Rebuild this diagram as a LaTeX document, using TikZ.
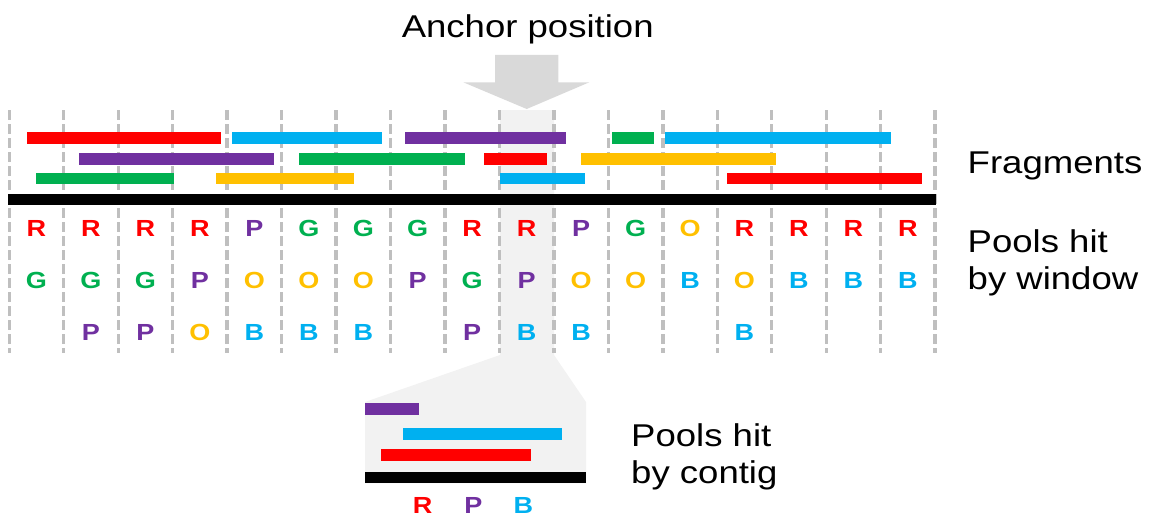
\documentclass[tikz,border=0pt]{standalone}
\usepackage{fontspec}
\setmainfont{Liberation Sans}
\definecolor{cR}{HTML}{FF0000}
\definecolor{cG}{HTML}{00B050}
\definecolor{cP}{HTML}{7030A0}
\definecolor{cO}{HTML}{FFC000}
\definecolor{cB}{HTML}{00B0F0}
\definecolor{gridgray}{HTML}{BFBFBF}
\definecolor{arrowgray}{HTML}{D9D9D9}
\definecolor{shadegray}{HTML}{F2F2F2}
\newcommand{\wide}[1]{\scalebox{1.16}[1]{#1}}
\newcommand{\fragbar}[4]{\fill[#1] (#2,#4-5.8) rectangle (#3,#4+5.8);}
\tikzset{
  letter/.style={inner sep=0pt, font=\bfseries\fontsize{23.3}{26}\selectfont},
  label/.style={inner sep=0pt, font=\fontsize{31.5}{37}\selectfont},
  gridline/.style={draw=gridgray, line width=3.4pt, dash pattern=on 9.5pt off 4.5pt},
}
\begin{document}
\begin{tikzpicture}[x=1pt,y=-1pt]
\useasboundingbox (0,0) rectangle (1155,519);
% shaded anchor band and zoom trapezoid
\fill[shadegray] (500,110) -- (554,110) -- (554,355) -- (586,402) -- (586,483.3) -- (365,483.3) -- (365,402) -- (500,355) -- cycle;
% anchor arrow
\fill[arrowgray] (495,55) -- (558.3,55) -- (558.3,82.3) -- (589.3,82.3) -- (526.7,109) -- (463.3,82.3) -- (495,82.3) -- cycle;
\node[label, anchor=base] (anchor) at (527.7,37.3) {\wide{Anchor position}};
% dashed grid lines
\foreach \k in {0,...,17} {
  \draw[gridline] ({9.3+54.46*\k},110) -- ({9.3+54.46*\k},353);
}
% fragments row 1
\fragbar{cR}{26.7}{221.3}{137.7}
\fragbar{cB}{232}{382}{137.7}
\fragbar{cP}{405}{566}{137.7}
\fragbar{cG}{612}{653.7}{137.7}
\fragbar{cB}{665}{891}{137.7}
% row 2
\fragbar{cP}{78.7}{273.7}{158.9}
\fragbar{cG}{299.3}{464.7}{158.9}
\fragbar{cR}{484}{546.7}{158.9}
\fragbar{cO}{581.3}{776}{158.9}
% row 3
\fragbar{cG}{36.3}{174}{178.5}
\fragbar{cO}{216.3}{353.7}{178.5}
\fragbar{cB}{499.7}{585}{178.5}
\fragbar{cR}{727}{922}{178.5}
% reference (black) bar
\fill[black] (8.3,194.2) rectangle (935.5,205.4);
% pools hit by window
\foreach \l [count=\i from 0] in {R,R,R,R,P,G,G,G,R,R,P,G,O,R,R,R,R} {
  \node[letter, text=c\l] (ra\i) at ({36.5+54.46*\i},228.3) {\wide{\l}};
}
\foreach \l [count=\i from 0] in {G,G,G,P,O,O,O,P,G,P,O,O,B,O,B,B,B} {
  \node[letter, text=c\l] (rb\i) at ({36.5+54.46*\i},280) {\wide{\l}};
}
\foreach \i/\l in {1/P,2/P,3/O,4/B,5/B,6/B,8/P,9/B,10/B,13/B} {
  \node[letter, text=c\l] (rc\i) at ({36.5+54.46*\i},332.7) {\wide{\l}};
}
% right labels
\node[label, anchor=base west] (frag) at (967.5,173.3) {\wide{Fragments}};
\node[label, anchor=base west] (win1) at (967.5,252.3) {\wide{Pools hit}};
\node[label, anchor=base west] (win2) at (967.5,289.3) {\wide{by window}};
% zoomed contig
\fragbar{cP}{365}{419}{408.8}
\fragbar{cB}{403.3}{562.3}{433.7}
\fragbar{cR}{380.7}{531.3}{455}
\fill[black] (365,472.2) rectangle (586,483.3);
\node[letter, text=cR] (cr) at (422.7,505.7) {\wide{R}};
\node[letter, text=cP] (cp) at (473.3,505.7) {\wide{P}};
\node[letter, text=cB] (cb) at (523.3,505.7) {\wide{B}};
\node[label, anchor=base west] (con1) at (631,446.7) {\wide{Pools hit}};
\node[label, anchor=base west] (con2) at (631,483.3) {\wide{by contig}};
\end{tikzpicture}
\end{document}
